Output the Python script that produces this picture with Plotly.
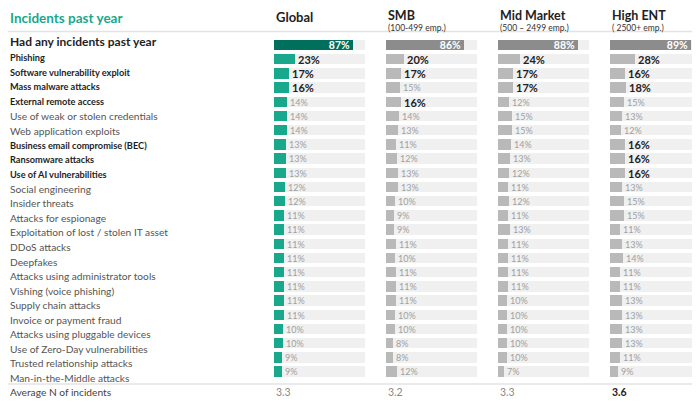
"""Incidents past year: horizontal bar table, four company-size segments side by side."""
import plotly.graph_objects as go

CATEGORIES = [
    "Had any incidents past year",
    "Phishing",
    "Software vulnerability exploit",
    "Mass malware attacks",
    "External remote access",
    "Use of weak or stolen credentials",
    "Web application exploits",
    "Business email compromise (BEC)",
    "Ransomware attacks",
    "Use of AI vulnerabilities",
    "Social engineering",
    "Insider threats",
    "Attacks for espionage",
    "Exploitation of lost / stolen IT asset",
    "DDoS attacks",
    "Deepfakes",
    "Attacks using administrator tools",
    "Vishing (voice phishing)",
    "Supply chain attacks",
    "Invoice or payment fraud",
    "Attacks using pluggable devices",
    "Use of Zero-Day vulnerabilities",
    "Trusted relationship attacks",
    "Man-in-the-Middle attacks",
]
BOLD_LABELS = [
    "Had any incidents past year", "Phishing", "Software vulnerability exploit",
    "Mass malware attacks", "External remote access", "Business email compromise (BEC)",
    "Ransomware attacks", "Use of AI vulnerabilities",
]

SEGMENTS = ["Global", "SMB", "Mid Market", "High ENT"]
SUBTITLES = ["", "(100-499 emp.)", "(500 – 2499 emp.)", "( 2500+ emp.)"]

GLOBAL = [87, 23, 17, 16, 14, 14, 14, 13, 13, 13, 12, 12, 11, 11, 11, 11, 11, 11, 11, 11, 10, 10, 9, 9]
SMB = [86, 20, 17, 15, 16, 14, 13, 11, 12, 13, 13, 10, 9, 9, 11, 10, 11, 11, 11, 10, 10, 8, 8, 12]
MID = [88, 24, 17, 17, 12, 15, 15, 14, 13, 12, 11, 12, 11, 13, 11, 11, 11, 11, 10, 10, 10, 10, 10, 7]
HIGH = [89, 28, 16, 18, 15, 13, 12, 16, 16, 16, 13, 15, 15, 11, 13, 14, 11, 11, 13, 13, 13, 13, 11, 9]

GLOBAL_BOLD = ["Phishing", "Software vulnerability exploit", "Mass malware attacks"]
SMB_BOLD = ["Phishing", "Software vulnerability exploit", "External remote access"]
MID_BOLD = ["Phishing", "Software vulnerability exploit", "Mass malware attacks"]
HIGH_BOLD = ["Phishing", "Software vulnerability exploit", "Mass malware attacks",
             "Business email compromise (BEC)", "Ransomware attacks", "Use of AI vulnerabilities"]

AVG_LABEL = "Average N of incidents"
AVG = [3.3, 3.2, 3.3, 3.6]
AVG_BOLD = [False, False, False, True]

FONT = "Lato, 'Open Sans', sans-serif"
TEAL = "#1aa88c"
TEAL_DARK = "#00705c"
GRAY = "#b9b9b9"
GRAY_DARK = "#8c8c8c"
TRACK = "#f0f0f0"

W, H = 700, 408
PAGE_PAD = 8          # the page body margin pushes the figure right/down by this much
ROW0_PX = 45.0 - PAGE_PAD    # centre of first bar row, px from figure top
PITCH = 14.2                 # px per row
COL_LEFT = [x - PAGE_PAD for x in (274, 386, 498, 610)]
COL_W = 91


def px_to_index(px):
    return (px - ROW0_PX) / PITCH


def ypaper(ref_px):
    return 1 - (ref_px - PAGE_PAD) / H


def main() -> None:
    fig = go.Figure()
    series = [GLOBAL, SMB, MID, HIGH]
    bolds = [GLOBAL_BOLD, SMB_BOLD, MID_BOLD, HIGH_BOLD]

    for k, (vals, bold_rows) in enumerate(zip(series, bolds)):
        xa = "x" if k == 0 else f"x{k + 1}"
        main_c, first_c = (TEAL, TEAL_DARK) if k == 0 else (GRAY, GRAY_DARK)

        # light track behind every row (0-100%)
        fig.add_trace(go.Bar(
            x=[100] * len(CATEGORIES), y=CATEGORIES, orientation="h",
            marker=dict(color=TRACK, line=dict(width=0)), width=0.72,
            hoverinfo="skip", showlegend=False, xaxis=xa, yaxis="y",
        ))

        texts, colors, sizes, positions = [], [], [], []
        for i, (cat, v) in enumerate(zip(CATEGORIES, vals)):
            if i == 0:
                texts.append(f"<b>{v}%</b>")
                colors.append("white")
                sizes.append(10.5)
                positions.append("inside")
            elif cat in bold_rows:
                texts.append(f"<b>{v}%</b>")
                colors.append("#222222")
                sizes.append(11)
                positions.append("outside")
            else:
                texts.append(f"{v}%")
                colors.append("#a0a0a0")
                sizes.append(9)
                positions.append("outside")

        fig.add_trace(go.Bar(
            x=vals, y=CATEGORIES, orientation="h",
            marker=dict(color=[first_c] + [main_c] * (len(vals) - 1), line=dict(width=0)),
            width=0.72,
            text=texts, textposition=positions, insidetextanchor="end",
            textfont=dict(color=colors, size=sizes, family=FONT),
            constraintext="none", cliponaxis=False,
            hovertemplate="%{y}: %{x}%<extra>" + SEGMENTS[k] + "</extra>",
            showlegend=False, xaxis=xa, yaxis="y",
        ))

        # column header
        fig.add_annotation(
            xref="paper", yref="paper", x=COL_LEFT[k] / W, xanchor="left",
            y=ypaper(17 if not SUBTITLES[k] else 15.5), yanchor="middle",
            text=f"<b>{SEGMENTS[k]}</b>", showarrow=False,
            font=dict(family=FONT, size=13 if not SUBTITLES[k] else 12.5, color="#222222"),
        )
        if SUBTITLES[k]:
            fig.add_annotation(
                xref="paper", yref="paper", x=COL_LEFT[k] / W, xanchor="left",
                y=ypaper(27.5), yanchor="middle", text=SUBTITLES[k], showarrow=False,
                font=dict(family=FONT, size=8.5, color="#333333"),
            )

        # average row
        fig.add_annotation(
            xref=xa, yref="y", x=0, xanchor="left", y=px_to_index(392 - PAGE_PAD),
            yanchor="middle",
            text=f"<b>{AVG[k]}</b>" if AVG_BOLD[k] else f"{AVG[k]}", showarrow=False,
            font=dict(family=FONT, size=10.5, color="#222222" if AVG_BOLD[k] else "#8a8a8a"),
        )

    # row labels on the left; the source's labels drift slightly from the bars
    for i, cat in enumerate(CATEGORIES):
        is_bold = cat in BOLD_LABELS
        if i == 0:
            size = 12
        else:
            size = 9.2 if is_bold else 10.2
        fig.add_annotation(
            xref="paper", yref="y", x=0, xanchor="left", y=i, yanchor="middle",
            yshift=4 if i == 0 else -(i - 5) * 0.35,
            text=f"<b>{cat}</b>" if is_bold else cat, showarrow=False,
            font=dict(family=FONT, size=size, color="#1e1e1e" if is_bold else "#555555"),
        )
    fig.add_annotation(
        xref="paper", yref="y", x=0, xanchor="left", y=px_to_index(392 - PAGE_PAD),
        yanchor="middle", text=AVG_LABEL, showarrow=False,
        font=dict(family=FONT, size=10.2, color="#444444"),
    )

    # title
    fig.add_annotation(
        xref="paper", yref="paper", x=0, xanchor="left", y=ypaper(17.5), yanchor="middle",
        text="<b>Incidents past year</b>", showarrow=False,
        font=dict(family=FONT, size=13.5, color=TEAL),
    )

    for y_px in (31.5, 384):
        fig.add_shape(type="line", xref="paper", yref="paper", x0=0, x1=1,
                      y0=ypaper(y_px), y1=ypaper(y_px),
                      line=dict(color="#e3e3e3", width=1.5))

    axis_common = dict(range=[0, 100], visible=False, fixedrange=True)
    layout_axes = {}
    for k in range(4):
        name = "xaxis" if k == 0 else f"xaxis{k + 1}"
        x0 = COL_LEFT[k] / W
        x1 = min((COL_LEFT[k] + COL_W) / W, 1.0)
        layout_axes[name] = dict(axis_common, domain=[x0, x1], anchor="y")

    fig.update_layout(
        width=W, height=H,
        margin=dict(l=0, r=0, t=0, b=0),
        paper_bgcolor="white", plot_bgcolor="white",
        barmode="overlay", bargap=0,
        font=dict(family=FONT),
        yaxis=dict(type="category", categoryorder="array", categoryarray=CATEGORIES,
                   range=[px_to_index(H), px_to_index(0)], visible=False, fixedrange=True,
                   domain=[0, 1]),
        **layout_axes,
    )
    fig.write_html("out.html")


if __name__ == "__main__":
    main()
